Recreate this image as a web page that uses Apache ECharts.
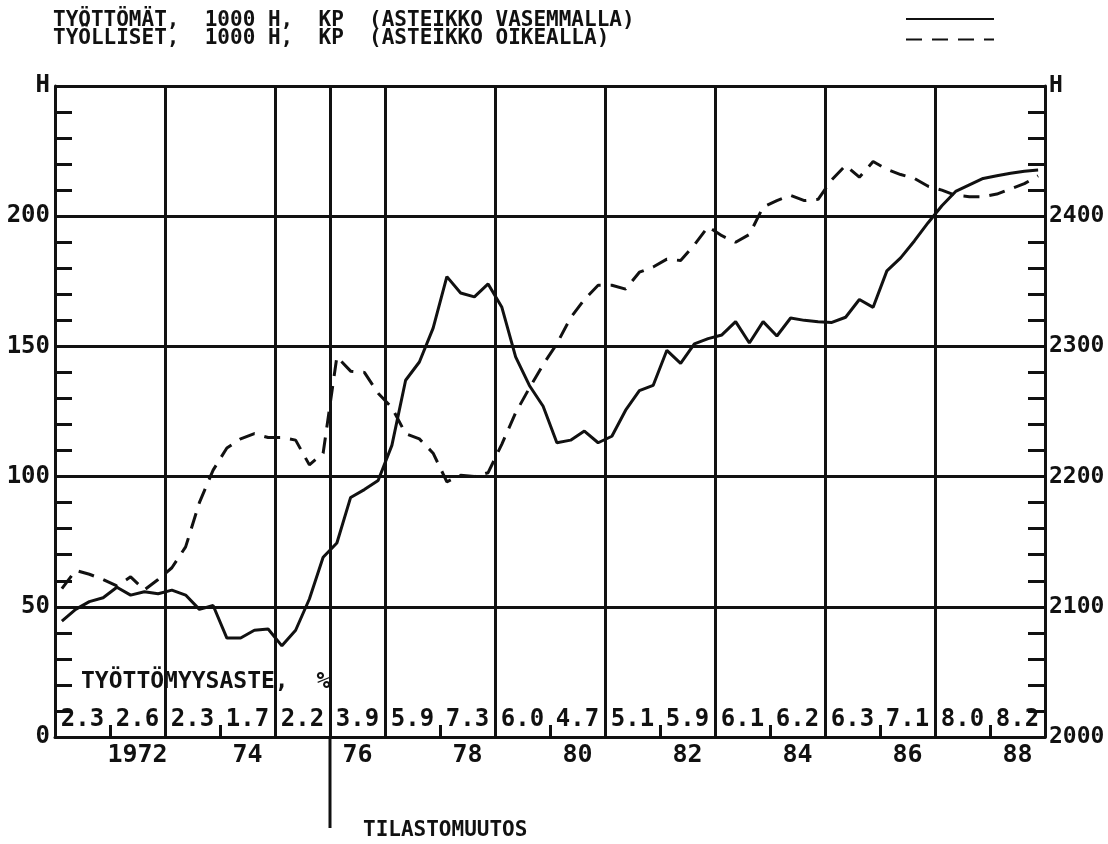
<!DOCTYPE html>
<html><head><meta charset="utf-8">
<script src="https://cdn.jsdelivr.net/npm/echarts@6/dist/echarts.min.js"></script>
<style>html,body{margin:0;padding:0;background:#fff;}#c{width:1108px;height:844px;}</style>
</head><body><div id="c"></div>
<script>
// ---- data ----
const years = [1971,1972,1973,1974,1975,1976,1977,1978,1979,1980,1981,1982,1983,1984,1985,1986,1987,1988];
const rates = ['2.3','2.6','2.3','1.7','2.2','3.9','5.9','7.3','6.0','4.7','5.1','5.9','6.1','6.2','6.3','7.1','8.0','8.2'];
const labelYears = [1972,1974,1976,1978,1980,1982,1984,1986,1988];
const yearAxisLabels = ['1972','74','76','78','80','82','84','86','88'];
const gridYears = [1973,1975,1976,1977,1979,1981,1983,1985,1987];
const cellTickYears = [1972,1974,1978,1980,1982,1984,1986,1988];
const quartersPerYear = 4;
// unemployed, 1000 persons, quarterly (left scale)
const unemployed = [44.5,49,52,53.5,57.5,54.5,55.8,55,56.4,54.5,
  49,50.5,38,38,41,41.5,35,41,53,69,
  74.5,92,95,98.5,112,137,144,157,176.8,170.5,
  169,174,165,146,135,127,113,114,117.5,113,
  115.5,125.5,133,135,148.5,143.5,151,153,154.4,159.5,
  151.3,159.5,154,160.9,160,159.5,159.2,161.2,168,165,
  179,184,190.5,197.5,204,209.5,212,214.5,215.5,216.5,
  217.3,217.7];
// employed, 1000 persons, quarterly (right scale)
const employed = [2114,2128,2125,2121,2116,2123,2113,2121,2130,2146,
  2180,2205,2222,2229,2233,2230,2230,2228,2209,2218,
  2292,2281,2280,2264,2253,2233,2229,2218,2196,2201,
  2200,2203,2225,2249,2268,2286,2302,2322,2336,2347,
  2347,2344,2357,2361,2367,2366,2378,2392,2385,2380,
  2386,2407,2412,2416,2412,2413,2428,2439,2430,2442,
  2436,2432,2429,2423,2420,2416,2415,2415,2417,2421,
  2425,2431];
const seriesNames = ['TYÖTTÖMÄT,  1000 H,  KP  (ASTEIKKO VASEMMALLA)','TYÖLLISET,  1000 H,  KP  (ASTEIKKO OIKEALLA)'];
const rateTitle = 'TYÖTTÖMYYSASTE,  %';
const statChangeYear = 1976;
const statChangeLabel = 'TILASTOMUUTOS';
const leftTopLabel = 'H', rightTopLabel = 'H';

// ---- build ----
const FONT = 'DejaVu Sans Mono';
const INK = '#111';
function toPoints(arr) {
  return arr.map((v, i) => [years[0] + (i + 0.5) / quartersPerYear, v]);
}
const yIdx = (y) => years.indexOf(y);
const chart = echarts.init(document.getElementById('c'), null, {renderer: 'canvas'});
const option = {
  animation: false,
  backgroundColor: '#fff',
  title: [
    {text: seriesNames.join('\n'), left: 48, top: 7,
      textStyle: {fontFamily: FONT, fontWeight: 'bold', fontSize: 21, lineHeight: 18, color: INK}},
    {text: rateTitle, left: 76, top: 666,
      textStyle: {fontFamily: FONT, fontWeight: 'bold', fontSize: 23, color: INK}}
  ],
  legend: {
    data: seriesNames, orient: 'vertical', right: 108, top: 6, itemWidth: 88, itemHeight: 16, itemGap: 6,
    formatter: () => '', itemStyle: {opacity: 0}, textStyle: {fontSize: 1}
  },
  grid: {left: 55, right: 63, top: 86, bottom: 107, containLabel: false},
  xAxis: [
    {type: 'value', min: years[0], max: years[years.length - 1] + 1, show: false, position: 'bottom'},
    {type: 'category', data: years.map(String), position: 'bottom', boundaryGap: true,
      axisLine: {show: true, onZero: false, lineStyle: {color: INK, width: 3}},
      axisTick: {show: true, inside: true, length: 12, lineStyle: {color: INK, width: 3},
        interval: (i) => cellTickYears.includes(years[i])},
      splitLine: {show: true, lineStyle: {color: INK, width: 3},
        interval: (i) => gridYears.includes(years[i])},
      axisLabel: {interval: (i) => labelYears.includes(years[i]),
        formatter: (v) => yearAxisLabels[labelYears.indexOf(+v)],
        fontFamily: FONT, fontWeight: 'bold', fontSize: 25, color: INK, margin: 6}
    },
    {type: 'category', data: years.map(String), position: 'bottom', boundaryGap: true,
      axisLine: {show: false}, axisTick: {show: false}, splitLine: {show: false},
      axisLabel: {inside: true, interval: 0, formatter: (v, i) => rates[yIdx(+v)],
        fontFamily: FONT, fontWeight: 'bold', fontSize: 24, color: INK, margin: 5}
    }
  ],
  yAxis: [
    {type: 'value', min: 0, max: 250, interval: 50, position: 'left',
      axisLine: {show: true, lineStyle: {color: INK, width: 3}},
      axisTick: {show: true, inside: true, length: 17, lineStyle: {color: INK, width: 3}},
      minorTick: {show: true, splitNumber: 5, length: 17, lineStyle: {color: INK, width: 3}},
      splitLine: {show: true, lineStyle: {color: INK, width: 3}},
      axisLabel: {formatter: (v) => v === 250 ? leftTopLabel : String(v), margin: 5,
        fontFamily: FONT, fontWeight: 'bold', fontSize: 24, color: INK}
    },
    {type: 'value', min: 2000, max: 2500, interval: 100, position: 'right',
      axisLine: {show: true, lineStyle: {color: INK, width: 3}},
      axisTick: {show: true, inside: true, length: 17, lineStyle: {color: INK, width: 3}},
      minorTick: {show: true, splitNumber: 5, length: 17, lineStyle: {color: INK, width: 3}},
      splitLine: {show: false},
      axisLabel: {formatter: (v) => v === 2500 ? rightTopLabel : String(v), margin: 4,
        fontFamily: FONT, fontWeight: 'bold', fontSize: 23, color: INK}
    }
  ],
  series: [
    {name: seriesNames[0], type: 'line', xAxisIndex: 0, yAxisIndex: 0, data: toPoints(unemployed),
      symbol: 'none', lineStyle: {color: INK, width: 3}, itemStyle: {color: INK}},
    {name: seriesNames[1], type: 'line', xAxisIndex: 0, yAxisIndex: 1, data: toPoints(employed),
      symbol: 'none', lineStyle: {color: INK, width: 3, type: [16, 10]}, itemStyle: {color: INK}},
    {type: 'custom', xAxisIndex: 0, yAxisIndex: 0, clip: false, silent: true, z: 5,
      data: [[statChangeYear, 0]],
      renderItem: function (params, api) {
        const p = api.coord([api.value(0), api.value(1)]);
        return {type: 'group', children: [
          {type: 'line', shape: {x1: p[0], y1: p[1], x2: p[0], y2: p[1] + 91},
            style: {stroke: INK, lineWidth: 3}},
          {type: 'text', x: p[0] + 33, y: p[1] + 94,
            style: {text: statChangeLabel, fontFamily: FONT, fontWeight: 'bold', fontSize: 21,
              fill: INK, verticalAlign: 'middle', align: 'left'}}
        ]};
      }
    }
  ]
};
chart.setOption(option);
</script></body></html>
